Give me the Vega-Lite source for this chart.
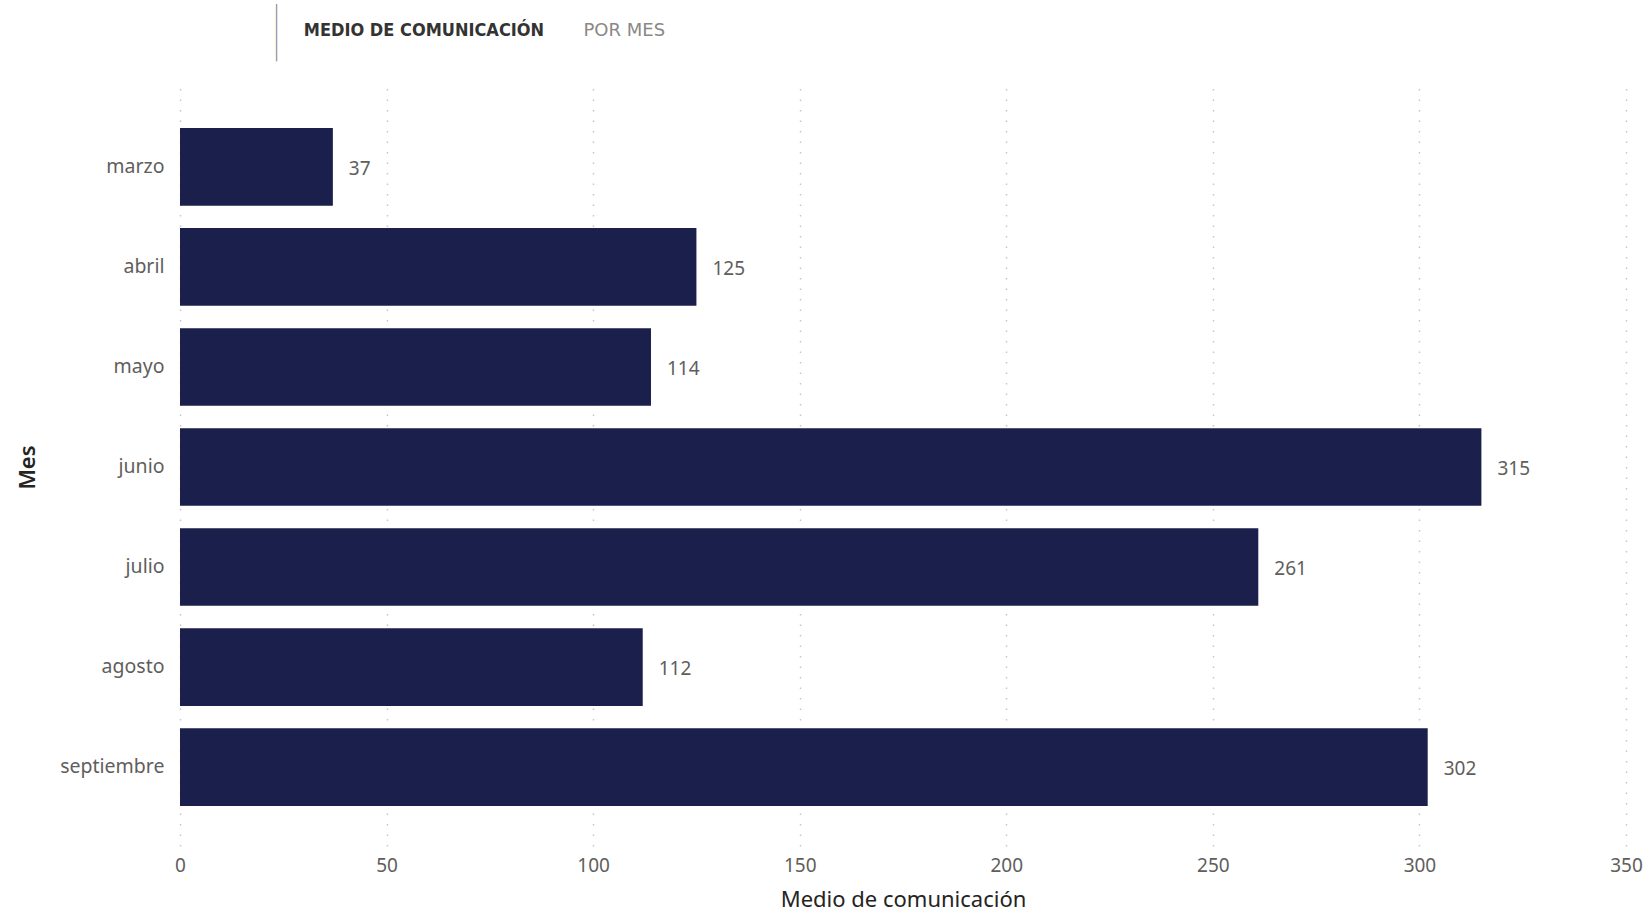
{
  "$schema": "https://vega.github.io/schema/vega-lite/v6.json",
  "width": 1446,
  "height": 758,
  "autosize": "none",
  "padding": {"left": 180, "top": 88, "right": 21, "bottom": 65},
  "background": "white",
  "config": {"view": {"stroke": null}, "font": "Noto Sans"},
  "data": {
    "values": [
      {"Mes": "marzo", "Medio": 37},
      {"Mes": "abril", "Medio": 125},
      {"Mes": "mayo", "Medio": 114},
      {"Mes": "junio", "Medio": 315},
      {"Mes": "julio", "Medio": 261},
      {"Mes": "agosto", "Medio": 112},
      {"Mes": "septiembre", "Medio": 302}
    ]
  },
  "title": {
    "text": "|",
    "subtitle": "\u200b\u00a0\u00a0\u00a0\u00a0\u00a0\u00a0MEDIO DE COMUNICACIÓN",
    "anchor": "start",
    "frame": "group",
    "dx": 90,
    "offset": -38.5,
    "font": "Inter",
    "fontWeight": 100,
    "fontSize": 48,
    "color": "#8a8a8a",
    "subtitleFont": "DejaVu Sans Condensed",
    "subtitleFontWeight": "bold",
    "subtitleFontSize": 18,
    "subtitleColor": "#333333",
    "subtitlePadding": -38
  },
  "layer": [
    {
      "mark": {"type": "bar", "color": "#1a1f4b"},
      "encoding": {
        "y": {
          "field": "Mes",
          "type": "nominal",
          "sort": null,
          "scale": {"paddingInner": 0.224, "paddingOuter": 0.4},
          "axis": {
            "title": "Mes",
            "titleFontSize": 22,
            "titleFontWeight": 600,
            "titleColor": "#252423",
            "titleX": -146,
            "titleBaseline": "alphabetic",
            "labelFontSize": 19.5,
            "labelColor": "#605E5C",
            "labelPadding": 16,
            "ticks": false,
            "domain": false,
            "grid": false
          }
        },
        "x": {
          "field": "Medio",
          "type": "quantitative",
          "scale": {"domain": [0, 350], "nice": false},
          "axis": {
            "orient": "bottom",
            "title": "Medio de comunicación",
            "titleFontSize": 22,
            "titleFontWeight": "normal",
            "titleColor": "#252423",
            "titleY": 60,
            "titleBaseline": "alphabetic",
            "values": [0, 50, 100, 150, 200, 250, 300, 350],
            "labelFontSize": 19,
            "labelColor": "#605E5C",
            "labelPadding": 10,
            "labelFlush": false,
            "ticks": false,
            "domain": false,
            "grid": true,
            "gridColor": "#c4c4c4",
            "gridDash": [1.5, 9],
            "gridWidth": 1.4
          }
        }
      }
    },
    {
      "mark": {"type": "text", "align": "left", "baseline": "middle", "dx": 16, "dy": 2, "fontSize": 19, "color": "#605E5C"},
      "encoding": {
        "y": {"field": "Mes", "type": "nominal", "sort": null},
        "x": {
          "field": "Medio",
          "type": "quantitative",
          "axis": {
            "orient": "top",
            "title": "POR MES",
            "titleFont": "DejaVu Sans",
            "titleFontSize": 18,
            "titleFontWeight": 500,
            "titleColor": "#8a8886",
            "titleX": 403,
            "titleY": -53,
            "titleAlign": "left",
            "titleBaseline": "alphabetic",
            "labels": false,
            "ticks": false,
            "domain": false,
            "grid": false
          }
        },
        "text": {"field": "Medio", "type": "quantitative"}
      }
    }
  ],
  "resolve": {"axis": {"x": "independent"}}
}
